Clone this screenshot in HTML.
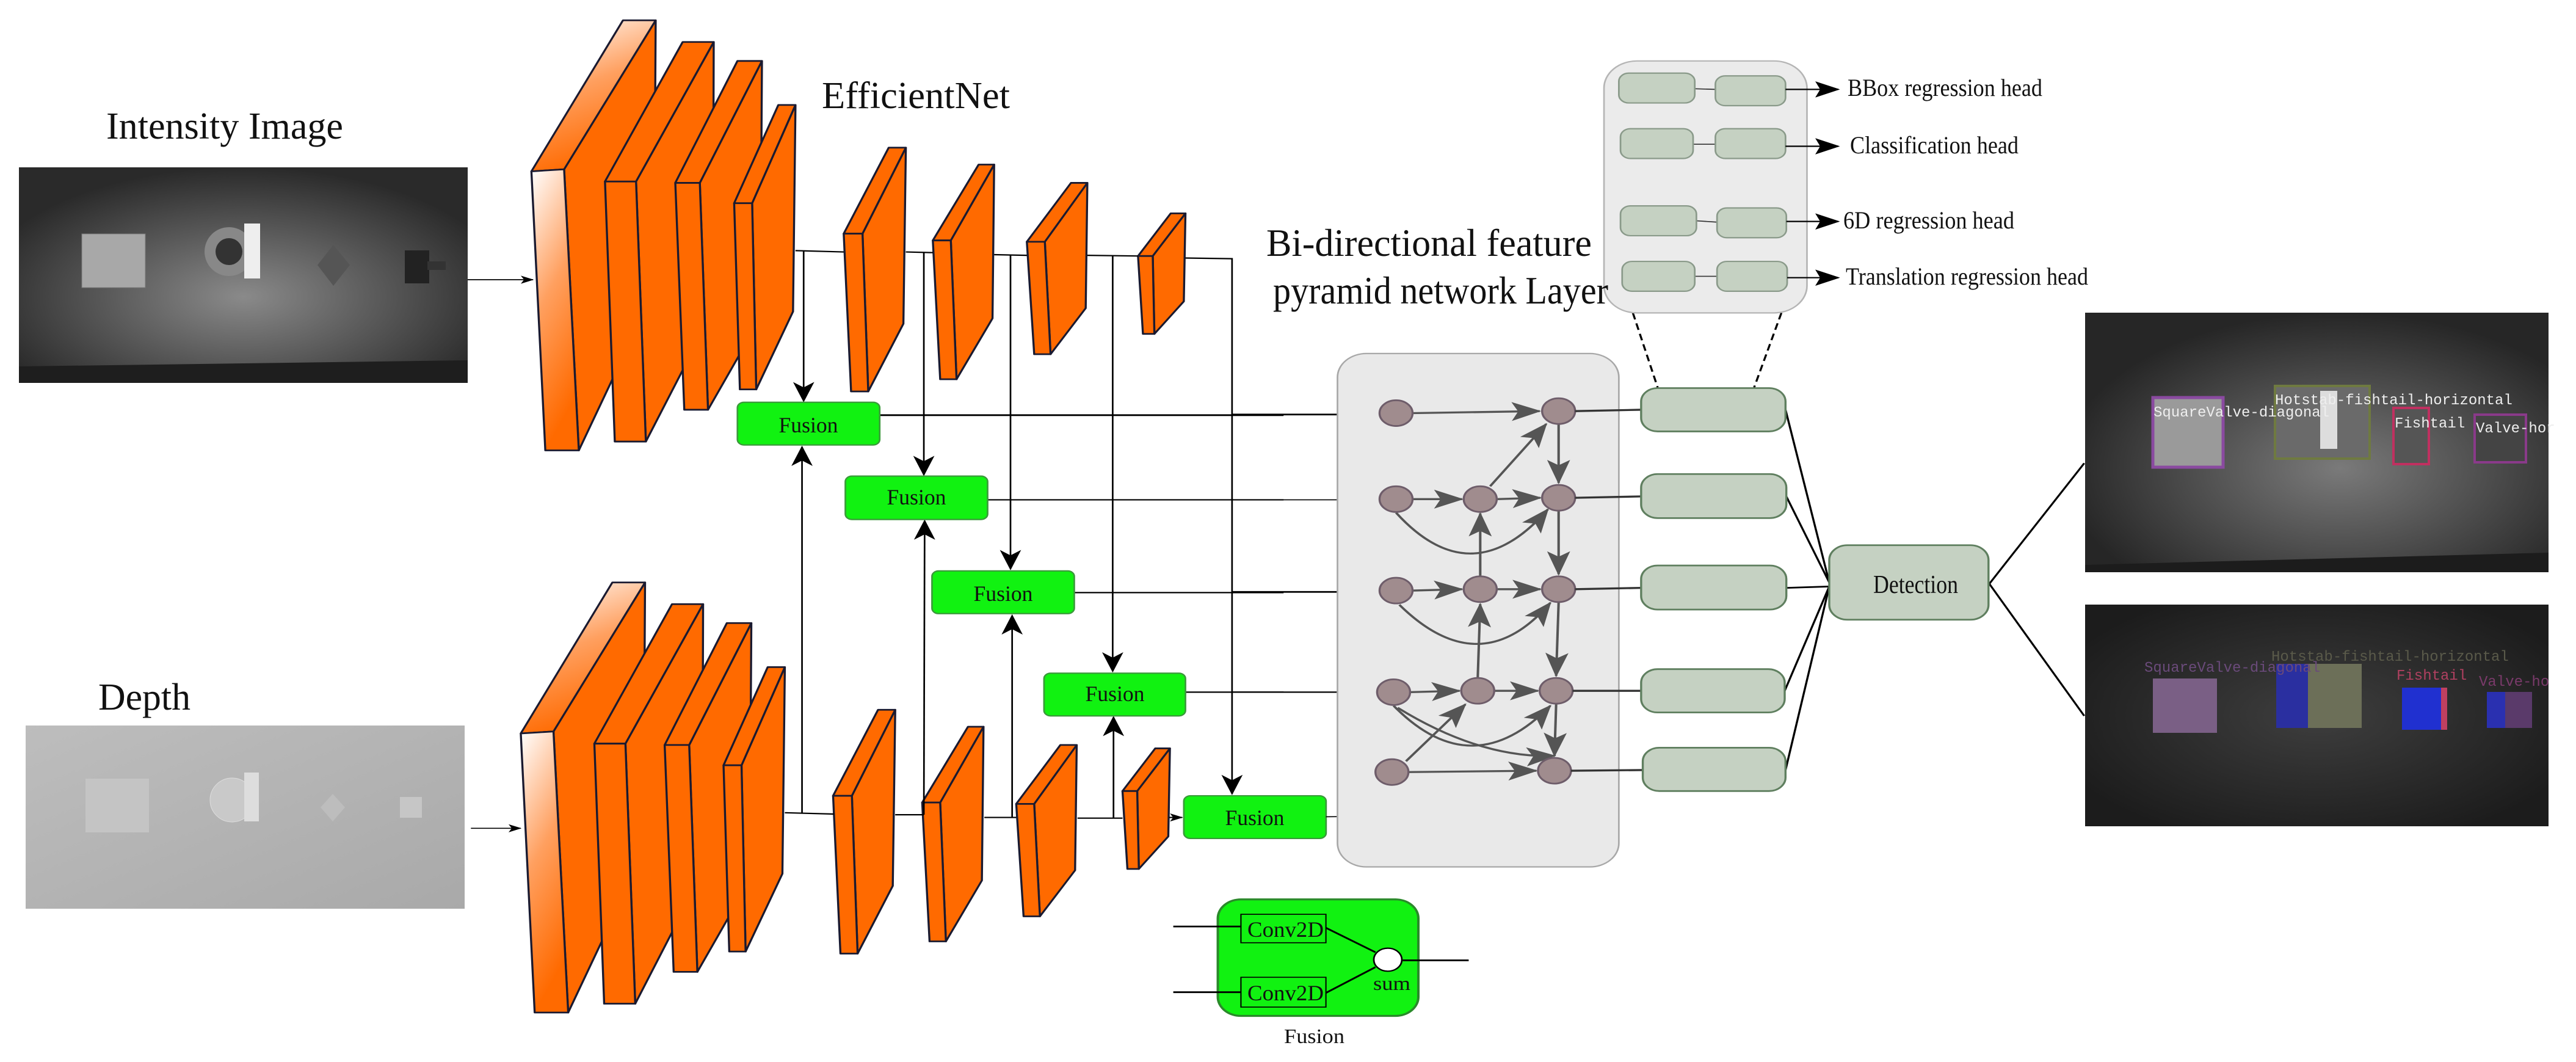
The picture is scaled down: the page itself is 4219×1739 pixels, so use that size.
<!DOCTYPE html>
<html><head><meta charset="utf-8"><style>
html,body{margin:0;padding:0;background:#fff}
svg{display:block}
text{font-family:"Liberation Serif",serif;fill:#111}
</style></head><body>
<svg width="4219" height="1739" viewBox="0 0 4219 1739" xmlns="http://www.w3.org/2000/svg">
<defs>
<linearGradient id="lg1" x1="0" y1="0" x2="0.3" y2="1"><stop offset="0" stop-color="#fff"/><stop offset="0.5" stop-color="#ffa060"/><stop offset="1" stop-color="#ff6a00"/></linearGradient>
<radialGradient id="rgI" cx="0.5" cy="0.6" r="0.6"><stop offset="0" stop-color="#8a8a8a"/><stop offset="1" stop-color="#2a2a2a"/></radialGradient>
<linearGradient id="lgD" x1="0" y1="0" x2="1" y2="1"><stop offset="0" stop-color="#bdbdbd"/><stop offset="1" stop-color="#a9a9a9"/></linearGradient>
<radialGradient id="rgR" cx="0.55" cy="0.6" r="0.6"><stop offset="0" stop-color="#7a7a7a"/><stop offset="1" stop-color="#262626"/></radialGradient>
<radialGradient id="rgR2" cx="0.5" cy="0.5" r="0.6"><stop offset="0" stop-color="#3e3e3e"/><stop offset="1" stop-color="#1c1c1c"/></radialGradient>
<marker id="ah" markerUnits="userSpaceOnUse" markerWidth="30" markerHeight="26" refX="28" refY="13" orient="auto"><path d="M0,0 L30,13 L0,26 L8,13 z" fill="#000"/></marker>
<marker id="as" markerUnits="userSpaceOnUse" markerWidth="16" markerHeight="12" refX="15" refY="6" orient="auto"><path d="M0,0 L16,6 L0,12 L4,6 z" fill="#000"/></marker>
<marker id="ag" markerUnits="userSpaceOnUse" markerWidth="36" markerHeight="28" refX="34" refY="14" orient="auto"><path d="M0,0 L36,14 L0,28 L8,14 z" fill="#555"/></marker>
<marker id="ak" markerUnits="userSpaceOnUse" markerWidth="30" markerHeight="24" refX="28" refY="12" orient="auto"><path d="M0,0 L30,12 L0,24 L6,12 z" fill="#000"/></marker>
</defs>

<!-- input images -->
<rect x="31" y="274" width="735" height="353" fill="url(#rgI)"/>
<polygon points="31,600 766,590 766,627 31,627" fill="#1e1e1e"/>
<rect x="134" y="383" width="104" height="88" fill="#a8a8a8" stroke="#777"/>
<circle cx="375" cy="412" r="40" fill="#888"/><circle cx="375" cy="412" r="22" fill="#333"/><rect x="400" y="366" width="26" height="90" fill="#eee"/>
<polygon points="546,401 573,434 546,468 520,434" fill="#555"/>
<rect x="663" y="410" width="40" height="54" fill="#222"/><rect x="700" y="428" width="30" height="14" fill="#333"/>
<rect x="42" y="1188" width="719" height="300" fill="url(#lgD)"/>
<rect x="140" y="1275" width="104" height="88" fill="#c4c4c4"/>
<circle cx="380" cy="1310" r="36" fill="#c9c9c9" stroke="#ddd"/><rect x="400" y="1265" width="24" height="80" fill="#ddd"/>
<polygon points="545,1300 565,1322 545,1345 525,1322" fill="#bdbdbd"/>
<rect x="655" y="1305" width="36" height="34" fill="#c6c6c6"/>

<!-- result images -->
<rect x="3415" y="512" width="759" height="425" fill="url(#rgR)"/>
<polygon points="3415,925 4174,905 4174,937 3415,937" fill="#1c1c1c"/>
<rect x="3526" y="651" width="115" height="114" fill="#9a9a9a" stroke="#8a4aa0" stroke-width="5"/>
<rect x="3726" y="632" width="155" height="119" fill="#6a6a6a" stroke="#6f7a40" stroke-width="4"/><rect x="3800" y="640" width="28" height="95" fill="#ddd"/>
<rect x="3920" y="668" width="58" height="92" fill="#555" stroke="#c03060" stroke-width="4"/>
<rect x="4053" y="679" width="84" height="78" fill="#444" stroke="#8a3a8a" stroke-width="4"/>
<g font-family="Liberation Mono, monospace" font-size="24" fill="#eee">
<text x="3527" y="682" style="fill:#eee;font-family:'Liberation Mono',monospace">SquareValve-diagonal</text>
<text x="3726" y="662" style="fill:#eee;font-family:'Liberation Mono',monospace">Hotstab-fishtail-horizontal</text>
<text x="3922" y="700" style="fill:#eee;font-family:'Liberation Mono',monospace">Fishtail</text>
<text x="4055" y="708" style="fill:#eee;font-family:'Liberation Mono',monospace">Valve-hor</text>
</g>
<rect x="3415" y="990" width="759" height="363" fill="url(#rgR2)"/>
<rect x="3526" y="1111" width="105" height="89" fill="#7a5f85"/>
<rect x="3728" y="1087" width="70" height="105" fill="#2a2fa0"/><rect x="3780" y="1087" width="88" height="105" fill="#6c6f58"/>
<rect x="3934" y="1126" width="74" height="69" fill="#2030d0"/><rect x="3998" y="1126" width="10" height="69" fill="#c04060"/>
<rect x="4073" y="1133" width="74" height="59" fill="#5a3a6a"/><rect x="4073" y="1133" width="30" height="59" fill="#2a30b0"/>
<text x="3512" y="1100" style="fill:#6a4a7a;font-family:'Liberation Mono',monospace;font-size:24px">SquareValve-diagonal</text>
<text x="3720" y="1082" style="fill:#5a5a4a;font-family:'Liberation Mono',monospace;font-size:24px">Hotstab-fishtail-horizontal</text>
<text x="3925" y="1113" style="fill:#b04060;font-family:'Liberation Mono',monospace;font-size:24px">Fishtail</text>
<text x="4060" y="1123" style="fill:#7a3a6a;font-family:'Liberation Mono',monospace;font-size:24px">Valve-ho</text>

<!-- LEFT GROUP (zoom1 coords) -->
<g transform="scale(1.339,1.109)">
<line x1="572" y1="413" x2="652" y2="413" stroke="#000" stroke-width="1.5" marker-end="url(#as)"/>
<line x1="576" y1="1223" x2="637" y2="1223" stroke="#000" stroke-width="1.5" marker-end="url(#as)"/>
<g id="enc" stroke="#1a1a30" stroke-width="2.5" stroke-linejoin="round" fill="#ff6a00">
<polygon points="690,250 802,30 800,430 708,665"/><polygon points="650,253 762,30 802,30 690,250" fill="url(#lg1)"/><polygon points="650,253 690,250 708,665 667,665" fill="url(#lg1)"/>
<polygon points="778,268 873,62 872,460 790,652"/><polygon points="740,268 835,62 873,62 778,268"/><polygon points="740,268 778,268 790,652 752,652"/>
<polygon points="856,270 932,90 930,470 866,605"/><polygon points="826,270 902,90 932,90 856,270"/><polygon points="826,270 856,270 866,605 837,605"/>
<polygon points="920,300 973,155 970,460 925,575"/><polygon points="898,300 952,155 973,155 920,300"/><polygon points="898,300 920,300 925,575 905,575"/>
<polygon points="1055,345 1108,218 1105,478 1062,578"/><polygon points="1032,345 1087,218 1108,218 1055,345"/><polygon points="1032,345 1055,345 1062,578 1041,578"/>
<polygon points="1163,355 1216,243 1214,470 1170,560"/><polygon points="1141,355 1197,243 1216,243 1163,355"/><polygon points="1141,355 1163,355 1170,560 1150,560"/>
<polygon points="1278,357 1330,270 1328,455 1285,523"/><polygon points="1256,357 1310,270 1330,270 1278,357"/><polygon points="1256,357 1278,357 1285,523 1265,523"/>
</g>
<g stroke="#1a1a30" stroke-width="2.5" stroke-linejoin="round" fill="#ff6a00">
<polygon points="1410,378 1450,315 1448,445 1412,493"/><polygon points="1392,378 1432,315 1450,315 1410,378"/><polygon points="1392,378 1410,378 1412,493 1398,493"/>
</g>
<use href="#enc" transform="translate(-13,830)"/>
<g stroke="#1a1a30" stroke-width="2.5" stroke-linejoin="round" fill="#ff6a00" transform="translate(-19,790)">
<polygon points="1410,378 1450,315 1448,445 1412,493"/><polygon points="1392,378 1432,315 1450,315 1410,378"/><polygon points="1392,378 1410,378 1412,493 1398,493"/>
</g>
<g stroke="#000" stroke-width="2" fill="none">
<polyline points="973,370 1032,372"/><polyline points="1108,372 1141,373"/><polyline points="1216,376 1256,377"/><polyline points="1330,377 1392,378"/>
<polyline points="1450,381 1507,382 1507,1172" marker-end="url(#ah)"/>
<line x1="983" y1="370" x2="983" y2="592" marker-end="url(#ah)"/>
<line x1="1130" y1="372" x2="1130" y2="701" marker-end="url(#ah)"/>
<line x1="1236" y1="376" x2="1236" y2="840" marker-end="url(#ah)"/>
<line x1="1361" y1="377" x2="1361" y2="991" marker-end="url(#ah)"/>
<polyline points="960,1200 1020,1202"/><polyline points="1095,1203 1130,1203"/><polyline points="1204,1207 1243,1207"/><polyline points="1318,1208 1373,1208"/>
<line x1="1430" y1="1207" x2="1446" y2="1207" marker-end="url(#as)"/>
<line x1="981" y1="1200" x2="981" y2="660" marker-end="url(#ah)"/>
<line x1="1130" y1="1203" x2="1131" y2="769" marker-end="url(#ah)"/>
<line x1="1238" y1="1207" x2="1238" y2="909" marker-end="url(#ah)"/>
<line x1="1362" y1="1208" x2="1362" y2="1059" marker-end="url(#ah)"/>
<line x1="1076" y1="613" x2="1570" y2="613" stroke-width="2.5"/>
<line x1="1208" y1="738" x2="1570" y2="738"/>
<line x1="1314" y1="875" x2="1570" y2="875"/>
<line x1="1450" y1="1022" x2="1570" y2="1022"/>
</g>
<g fill="#11f211" stroke="#3a9a3a" stroke-width="2">
<rect x="902" y="594" width="174" height="63" rx="8"/>
<rect x="1034" y="703" width="174" height="64" rx="8"/>
<rect x="1140" y="843" width="174" height="63" rx="8"/>
<rect x="1277" y="994" width="173" height="63" rx="8"/>
<rect x="1448" y="1175" width="174" height="63" rx="8"/>
</g>
</g>

<!-- RIGHT GROUP (zoom2 coords) -->
<g transform="matrix(1.3514,0,0,1.109,2100,0)">
<g stroke="#000" stroke-width="2.5" fill="none">
<line x1="-60" y1="612" x2="114" y2="612" marker-end="url(#ak)"/>
<line x1="-60" y1="738" x2="114" y2="738" marker-end="url(#ak)" stroke-width="1.5"/>
<line x1="-60" y1="874" x2="114" y2="874" marker-end="url(#ak)"/>
<line x1="-60" y1="1022" x2="112" y2="1022" marker-end="url(#ak)" stroke-width="2"/>
<polyline points="53,1206 135,1205 135,1162" stroke-width="1.5" marker-end="url(#as)"/>
</g>
<rect x="67" y="522" width="341" height="758" rx="35" fill="#e9e9e9" stroke="#a8a8a8" stroke-width="2"/>
<g stroke="#555" stroke-width="3" fill="none">
<line x1="158" y1="610" x2="312" y2="607" marker-end="url(#ag)"/>
<line x1="158" y1="737" x2="218" y2="737" marker-end="url(#ag)"/>
<line x1="260" y1="737" x2="313" y2="735" marker-end="url(#ag)"/>
<line x1="252" y1="718" x2="320" y2="626" marker-end="url(#ag)"/>
<path d="M138,757 Q230,880 322,752" marker-end="url(#ag)"/>
<line x1="335" y1="627" x2="335" y2="713" marker-end="url(#ag)"/>
<line x1="158" y1="872" x2="218" y2="870" marker-end="url(#ag)"/>
<line x1="260" y1="870" x2="313" y2="870" marker-end="url(#ag)"/>
<line x1="240" y1="850" x2="240" y2="758" marker-end="url(#ag)"/>
<line x1="335" y1="755" x2="335" y2="848" marker-end="url(#ag)"/>
<path d="M142,893 Q240,1010 325,890" marker-end="url(#ag)"/>
<line x1="155" y1="1022" x2="215" y2="1020" marker-end="url(#ag)"/>
<line x1="257" y1="1020" x2="310" y2="1020" marker-end="url(#ag)"/>
<line x1="237" y1="1000" x2="240" y2="892" marker-end="url(#ag)"/>
<line x1="335" y1="890" x2="332" y2="998" marker-end="url(#ag)"/>
<path d="M135,1042 Q230,1160 325,1042" marker-end="url(#ag)"/>
<path d="M140,1045 Q240,1120 330,1116" marker-end="url(#ag)"/>
<line x1="150" y1="1124" x2="222" y2="1040" marker-end="url(#ag)"/>
<line x1="332" y1="1040" x2="330" y2="1116" marker-end="url(#ag)"/>
<line x1="153" y1="1140" x2="308" y2="1138" marker-end="url(#ag)"/>
</g>
<g fill="#a08c8e" stroke="#6e5d6a" stroke-width="2.5">
<ellipse cx="138" cy="610" rx="20" ry="19"/><ellipse cx="335" cy="607" rx="20" ry="19"/>
<ellipse cx="138" cy="737" rx="20" ry="19"/><ellipse cx="240" cy="737" rx="20" ry="19"/><ellipse cx="335" cy="735" rx="20" ry="19"/>
<ellipse cx="138" cy="872" rx="20" ry="19"/><ellipse cx="240" cy="870" rx="20" ry="19"/><ellipse cx="335" cy="870" rx="20" ry="19"/>
<ellipse cx="135" cy="1022" rx="20" ry="19"/><ellipse cx="237" cy="1020" rx="20" ry="19"/><ellipse cx="332" cy="1020" rx="20" ry="19"/>
<ellipse cx="133" cy="1140" rx="20" ry="19"/><ellipse cx="330" cy="1138" rx="20" ry="19"/>
</g>
<g stroke="#333" stroke-width="3">
<line x1="355" y1="607" x2="435" y2="605"/><line x1="355" y1="735" x2="435" y2="733"/><line x1="355" y1="870" x2="435" y2="868"/><line x1="352" y1="1020" x2="435" y2="1020"/><line x1="350" y1="1138" x2="437" y2="1137"/>
</g>
<g stroke="#000" stroke-width="2.5">
<line x1="610" y1="605" x2="663" y2="860"/><line x1="611" y1="733" x2="663" y2="860"/><line x1="611" y1="868" x2="663" y2="866"/><line x1="609" y1="1020" x2="663" y2="866"/><line x1="610" y1="1137" x2="663" y2="866"/>
<line x1="857" y1="862" x2="972" y2="684"/><line x1="857" y1="862" x2="972" y2="1057"/>
<line x1="425" y1="462" x2="455" y2="572" stroke-dasharray="10,6"/><line x1="605" y1="462" x2="572" y2="572" stroke-dasharray="10,6"/>
</g>
<g fill="#c5d1c2" stroke="#5f7f5f" stroke-width="2.5">
<rect x="435" y="573" width="175" height="64" rx="20"/>
<rect x="435" y="700" width="176" height="65" rx="20"/>
<rect x="435" y="835" width="176" height="65" rx="20"/>
<rect x="435" y="988" width="174" height="64" rx="20"/>
<rect x="437" y="1104" width="173" height="64" rx="20"/>
<rect x="663" y="805" width="193" height="110" rx="22"/>
</g>
<rect x="390" y="90" width="246" height="372" rx="40" fill="#ebebeb" stroke="#b5b5b5" stroke-width="2"/>
<g stroke="#333" stroke-width="1.5">
<line x1="500" y1="131" x2="525" y2="132"/><line x1="498" y1="213" x2="525" y2="213"/><line x1="502" y1="326" x2="527" y2="328"/><line x1="500" y1="408" x2="527" y2="408"/>
</g>
<g fill="#c5d1c2" stroke="#8a9a8a" stroke-width="2">
<rect x="408" y="108" width="92" height="44" rx="12"/><rect x="525" y="112" width="85" height="44" rx="12"/>
<rect x="410" y="190" width="88" height="44" rx="12"/><rect x="525" y="190" width="85" height="44" rx="12"/>
<rect x="410" y="304" width="92" height="44" rx="12"/><rect x="527" y="307" width="84" height="44" rx="12"/>
<rect x="412" y="386" width="88" height="44" rx="12"/><rect x="527" y="386" width="85" height="44" rx="12"/>
</g>
<g stroke="#000" stroke-width="2">
<line x1="610" y1="132" x2="674" y2="132" marker-end="url(#ak)"/>
<line x1="610" y1="216" x2="674" y2="216" marker-end="url(#ak)"/>
<line x1="611" y1="327" x2="674" y2="327" marker-end="url(#ak)"/>
<line x1="612" y1="410" x2="674" y2="410" marker-end="url(#ak)"/>
</g>
<!-- fusion detail -->
<rect x="-78" y="1328" width="243" height="172" rx="28" fill="#11f211" stroke="#2a8a2a" stroke-width="3"/>
<g stroke="#000" stroke-width="2.5" fill="none">
<line x1="-132" y1="1368" x2="-50" y2="1368"/><line x1="-132" y1="1465" x2="-50" y2="1465"/>
<rect x="-50" y="1350" width="103" height="42" stroke-width="1.5"/><rect x="-50" y="1443" width="103" height="44" stroke-width="1.5"/>
<line x1="53" y1="1370" x2="113" y2="1406"/><line x1="53" y1="1466" x2="113" y2="1428"/>
<line x1="146" y1="1418" x2="226" y2="1418"/>
</g>
<ellipse cx="128" cy="1417" rx="17" ry="17" fill="#fff" stroke="#000" stroke-width="2"/>
</g>

<!-- TEXT -->
<text x="174" y="227" font-size="62" textLength="388" lengthAdjust="spacingAndGlyphs">Intensity Image</text>
<text x="1346" y="177" font-size="62" textLength="308" lengthAdjust="spacingAndGlyphs">EfficientNet</text>
<text x="161" y="1162" font-size="62" textLength="151" lengthAdjust="spacingAndGlyphs">Depth</text>
<g font-size="36" text-anchor="middle">
<text x="1324" y="708" textLength="97" lengthAdjust="spacingAndGlyphs">Fusion</text>
<text x="1501" y="826" textLength="97" lengthAdjust="spacingAndGlyphs">Fusion</text>
<text x="1643" y="984" textLength="97" lengthAdjust="spacingAndGlyphs">Fusion</text>
<text x="1826" y="1148" textLength="97" lengthAdjust="spacingAndGlyphs">Fusion</text>
<text x="2055" y="1351" textLength="97" lengthAdjust="spacingAndGlyphs">Fusion</text>
</g>
<text x="2074" y="419" font-size="64" textLength="533" lengthAdjust="spacingAndGlyphs">Bi-directional feature</text>
<text x="2085" y="497" font-size="64" textLength="549" lengthAdjust="spacingAndGlyphs">pyramid network Layer</text>
<text x="3026" y="157" font-size="40" textLength="319" lengthAdjust="spacingAndGlyphs">BBox regression head</text>
<text x="3030" y="251" font-size="40" textLength="276" lengthAdjust="spacingAndGlyphs">Classification head</text>
<text x="3019" y="374" font-size="40" textLength="280" lengthAdjust="spacingAndGlyphs">6D regression head</text>
<text x="3023" y="466" font-size="40" textLength="397" lengthAdjust="spacingAndGlyphs">Translation regression head</text>
<text x="3068" y="971" font-size="42" textLength="139" lengthAdjust="spacingAndGlyphs">Detection</text>
<text x="2043" y="1534" font-size="36" textLength="125" lengthAdjust="spacingAndGlyphs">Conv2D</text>
<text x="2043" y="1638" font-size="36" textLength="125" lengthAdjust="spacingAndGlyphs">Conv2D</text>
<text x="2249" y="1621" font-size="32" textLength="61" lengthAdjust="spacingAndGlyphs">sum</text>
<text x="2103" y="1708" font-size="34" textLength="99" lengthAdjust="spacingAndGlyphs">Fusion</text>
</svg>
</body></html>
